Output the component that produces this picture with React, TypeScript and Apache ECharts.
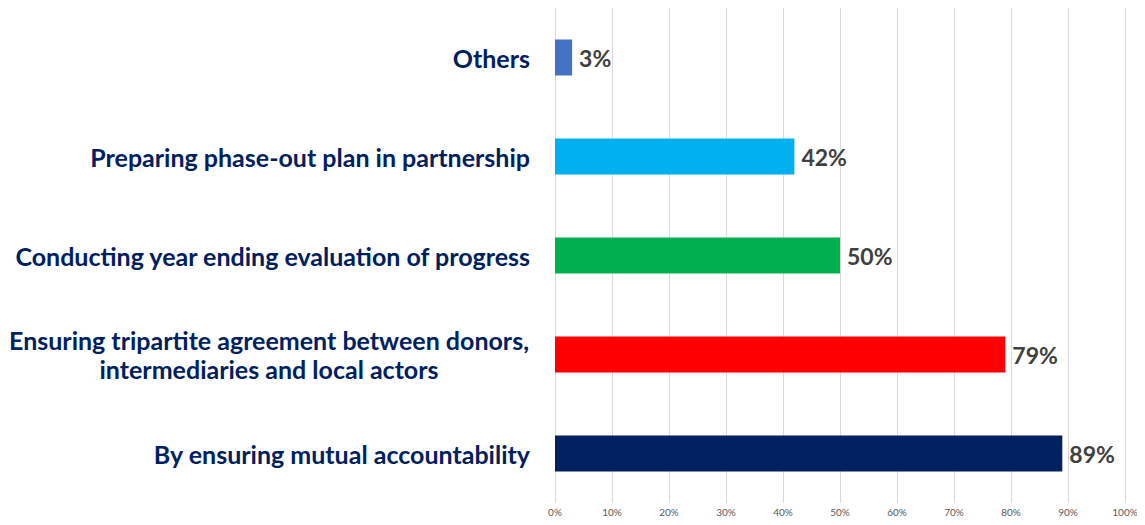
import React, { useEffect, useRef } from "react";
import * as echarts from "echarts";

const categories = [
  "By ensuring mutual accountability",
  "Ensuring tripartite agreement between donors,\nintermediaries and local actors",
  "Conducting year ending evaluation of progress",
  "Preparing phase-out plan in partnership",
  "Others",
];
const values = [89, 79, 50, 42, 3];
const colors = ["#002060", "#FF0000", "#00B050", "#00B0F0", "#4472C4"];
const tickLabels = ["0%", "10%", "20%", "30%", "40%", "50%", "60%", "70%", "80%", "90%", "100%"];

export default function App() {
  const ref = useRef<HTMLDivElement>(null);
  useEffect(() => {
    if (!ref.current) return;
    const chart = echarts.init(ref.current, null, { renderer: "svg" });
    chart.setOption({
      animation: false,
      grid: { left: 555, right: 20, top: 8, bottom: 22, containLabel: false },
      xAxis: {
        type: "value",
        min: 0,
        max: 100,
        interval: 10,
        axisLine: { show: false },
        axisTick: { show: false },
        splitLine: { show: true, lineStyle: { color: "#D9D9D9", width: 1 } },
        axisLabel: {
          color: "#595959",
          fontSize: 10,
          fontFamily: "Lato",
          margin: 4,
          formatter: (v: number) => tickLabels[Math.round(v / 10)],
        },
      },
      yAxis: {
        type: "category",
        data: categories,
        axisLine: { show: false },
        axisTick: { show: false },
        axisLabel: {
          margin: 25,
          color: "#002060",
          fontWeight: "bold",
          fontSize: 25,
          fontFamily: "Lato",
          lineHeight: 29,
          formatter: (v: string) => {
            if (v.includes("\n")) {
              return v
                .split("\n")
                .map((l) => `{c|${l}}`)
                .join("\n");
            }
            return v;
          },
          rich: {
            c: {
              width: 522,
              align: "center",
              color: "#002060",
              fontWeight: "bold",
              fontSize: 25,
              fontFamily: "Lato",
              lineHeight: 29,
            },
          },
        },
      },
      series: [
        {
          type: "bar",
          barWidth: 36,
          data: values.map((v, i) => ({ value: v, itemStyle: { color: colors[i] } })),
          label: {
            show: true,
            position: "right",
            distance: 7,
            formatter: "{c}%",
            color: "#404040",
            fontWeight: "bold",
            fontSize: 23,
            fontFamily: "Lato",
          },
        },
      ],
    });
    return () => chart.dispose();
  }, []);
  return <div ref={ref} style={{ width: 1145, height: 525, margin: -8 }} />;
}
